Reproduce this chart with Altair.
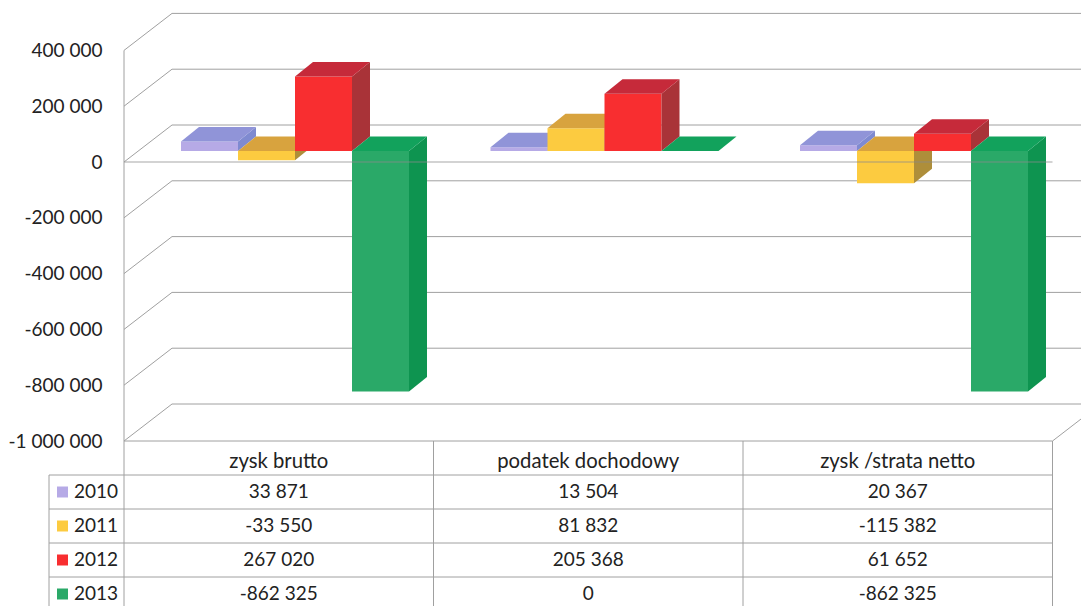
import altair as alt
import pandas as pd

categories = ["zysk brutto", "podatek dochodowy", "zysk /strata netto"]
years = ["2010", "2011", "2012", "2013"]
values_2010 = [33871, 13504, 20367]
values_2011 = [-33550, 81832, -115382]
values_2012 = [267020, 205368, 61652]
values_2013 = [-862325, 0, -862325]
series = [values_2010, values_2011, values_2012, values_2013]
tick_values = [400000, 200000, 0, -200000, -400000, -600000, -800000, -1000000]

front = ["#b6aae6", "#fccb40", "#f82e30", "#2aa968"]
top = ["#9094d8", "#d8a33e", "#c62a3a", "#12a25c"]
side = ["#7f8ad0", "#ae8e3a", "#a93338", "#0e9450"]

FONT = "Lato"
FS = 19
FS_HEAD = 20.3
GRID = "#a0a0a0"

CAT_W = 309.5                # px per category
UNIT_Y = 0.279 / 1000        # px per value unit
px = lambda n: n / CAT_W     # horizontal px to x units
py = lambda n: n / UNIT_Y    # vertical px to value units

PLOT_W = 957
PLOT_H = 598
Y_TOP = py(162 - 8)
Y_BOT = -py(8 + PLOT_H - 162)
X_END = px(PLOT_W)
DEPTH_X, DEPTH_Y = px(48), py(37)
BAR_W = px(57)
BASE = py(11)
SIDE_X, SIDE_Y = px(18), py(14.5)
ROW = py(34)
FLOOR = -1000000


def row_y(r):
    return FLOOR - r * ROW


polys = []
for c in range(len(categories)):
    for s in range(len(years)):
        v = series[s][c]
        x0 = c + BAR_W * (s + 1)
        x1 = x0 + BAR_W
        hi = BASE + max(v, 0)
        lo = BASE + min(v, 0)
        bid = f"{c}-{s}"
        for x, y, y2 in [(x0, lo, hi), (x1, lo, hi)]:
            polys.append(dict(id=bid + "-a", x=x, y=y, y2=y2, fill=front[s]))
        for x, y, y2 in [(x1, lo, hi), (x1 + SIDE_X, lo + SIDE_Y, hi + SIDE_Y)]:
            polys.append(dict(id=bid + "-b", x=x, y=y, y2=y2, fill=side[s]))
        for x, y, y2 in [
            (x0, hi, hi),
            (x0 + SIDE_X, hi, hi + SIDE_Y),
            (x1, hi, hi + SIDE_Y),
            (x1 + SIDE_X, hi + SIDE_Y, hi + SIDE_Y),
        ]:
            polys.append(dict(id=bid + "-c", x=x, y=y, y2=y2, fill=top[s]))
polys = pd.DataFrame(polys)

xs = alt.Scale(domain=[0, X_END], nice=False, zero=False)
ys = alt.Scale(domain=[Y_BOT, Y_TOP], nice=False, zero=False)
X = lambda f="x": alt.X(f"{f}:Q", scale=xs, axis=None)
Y = alt.Y(
    "y:Q",
    scale=ys,
    title=None,
    axis=alt.Axis(
        values=tick_values,
        labelExpr="replace(replace(format(datum.value, ','), regexp(',', 'g'), ' '), '\u2212', '-')",
        labelFont=FONT,
        labelFontSize=FS,
        labelColor="#222222",
        labelPadding=22,
        tickSize=0,
        domain=False,
        grid=False,
    ),
)

# back wall
back = alt.Chart(pd.DataFrame({"y": [v + DEPTH_Y for v in tick_values]})).transform_calculate(
    x=str(DEPTH_X), x2=str(X_END)
).mark_rule(color=GRID, strokeWidth=1).encode(x=X(), x2="x2:Q", y=Y)

# side wall and floor diagonals
diag_rows = []
for v in tick_values:
    diag_rows += [dict(id=v, x=0, y=v), dict(id=v, x=DEPTH_X, y=v + DEPTH_Y)]
diag_rows += [dict(id="r", x=3.0, y=FLOOR), dict(id="r", x=3.0 + DEPTH_X, y=FLOOR + DEPTH_Y)]
diag = alt.Chart(pd.DataFrame(diag_rows)).mark_line(color=GRID, strokeWidth=1).encode(
    x=X(), y=Y, detail="id:N"
)

# columns
bars = alt.Chart(polys).mark_area(opacity=1).encode(
    x=X(), y=Y, y2="y2:Q", color=alt.Color("fill:N", scale=None), detail="id:N"
)

# zero line above the columns
zero = alt.Chart(pd.DataFrame({"y": [0], "x": [0], "x2": [3.0]})).mark_rule(
    color="#8c8c8c", strokeWidth=1.2, opacity=0.75
).encode(x=X(), x2="x2:Q", y=Y)

# data table grid
LEG_X = px(49 - 124)
hrows = [dict(x=0, x2=3.0, y=row_y(0))] + [
    dict(x=LEG_X, x2=3.0, y=row_y(r)) for r in range(1, 5)
]
hlines = alt.Chart(pd.DataFrame(hrows)).mark_rule(color=GRID, strokeWidth=1).encode(
    x=X(), x2="x2:Q", y=Y
)
vrows = [
    dict(x=0, y=400000, y2=row_y(5)),
    dict(x=1, y=row_y(0), y2=row_y(5)),
    dict(x=2, y=row_y(0), y2=row_y(5)),
    dict(x=3, y=row_y(0), y2=row_y(5)),
    dict(x=LEG_X, y=row_y(1), y2=row_y(5)),
]
vlines = alt.Chart(pd.DataFrame(vrows)).mark_rule(color=GRID, strokeWidth=1).encode(
    x=X(), y=Y, y2="y2:Q"
)

# table texts
head_cells = pd.DataFrame(
    [dict(x=c + 0.5, y=row_y(0.5) - py(4), t=name) for c, name in enumerate(categories)]
)
head_text = alt.Chart(head_cells).mark_text(
    font=FONT, fontSize=FS_HEAD, color="#222222", align="center", baseline="middle"
).encode(x=X(), y=Y, text="t:N")

cells = []
for c in range(len(categories)):
    for s in range(len(years)):
        cells.append(dict(x=c + 0.5, y=row_y(s + 1.5), t=f"{series[s][c]:,}".replace(",", " ")))
cell_text = alt.Chart(pd.DataFrame(cells)).mark_text(
    font=FONT, fontSize=FS, color="#222222", align="center", baseline="middle"
).encode(x=X(), y=Y, text="t:N")

leg = pd.DataFrame(
    [dict(x=px(62.5 - 124), tx=px(74 - 124), y=row_y(s + 1.5), t=years[s], fill=front[s]) for s in range(4)]
)
leg_marks = alt.Chart(leg).mark_square(size=121, opacity=1).encode(
    x=X(), y=Y, color=alt.Color("fill:N", scale=None)
)
leg_text = alt.Chart(leg).mark_text(
    font=FONT, fontSize=FS, color="#222222", align="left", baseline="middle"
).encode(x=X("tx"), y=Y, text="t:N")

chart = (
    alt.layer(back, diag, bars, zero, hlines, vlines, head_text, cell_text, leg_marks, leg_text)
    .properties(
        width=PLOT_W,
        height=PLOT_H,
        autosize=alt.AutoSizeParams(type="none"),
        padding={"left": 116, "top": 0, "right": 0, "bottom": 0},
        background="white",
    )
    .configure_view(stroke=None)
)
chart.save("out.html", embed_options={"renderer": "svg", "actions": False})
